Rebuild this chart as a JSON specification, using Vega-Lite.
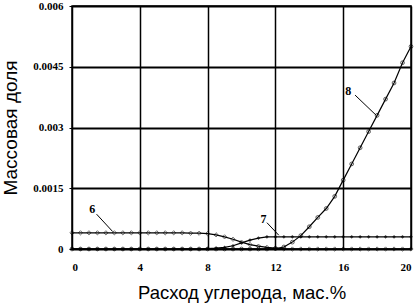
{
  "$schema": "https://vega.github.io/schema/vega-lite/v6.json",
  "autosize": "none",
  "width": 339,
  "height": 243,
  "padding": {"left": 72, "top": 6, "right": 7, "bottom": 59},
  "background": "white",
  "config": {
    "view": {"stroke": "black", "strokeWidth": 1.5},
    "font": "Liberation Sans"
  },
  "datasets": {
    "curves": [
      {"s": "6", "x": 0, "y": 0.0004}, {"s": "6", "x": 0.5, "y": 0.0004}, {"s": "6", "x": 1, "y": 0.0004}, {"s": "6", "x": 1.5, "y": 0.0004}, {"s": "6", "x": 2, "y": 0.0004}, {"s": "6", "x": 2.5, "y": 0.0004}, {"s": "6", "x": 3, "y": 0.0004}, {"s": "6", "x": 3.5, "y": 0.0004}, {"s": "6", "x": 4, "y": 0.0004}, {"s": "6", "x": 4.5, "y": 0.0004}, {"s": "6", "x": 5, "y": 0.0004}, {"s": "6", "x": 5.5, "y": 0.0004}, {"s": "6", "x": 6, "y": 0.0004}, {"s": "6", "x": 6.5, "y": 0.0004}, {"s": "6", "x": 7, "y": 0.00039}, {"s": "6", "x": 7.5, "y": 0.00039}, {"s": "6", "x": 8, "y": 0.00038},
      {"s": "6", "x": 8.5, "y": 0.00035}, {"s": "6", "x": 9, "y": 0.0003}, {"s": "6", "x": 9.5, "y": 0.00024}, {"s": "6", "x": 10, "y": 0.00017}, {"s": "6", "x": 10.5, "y": 0.00011}, {"s": "6", "x": 11, "y": 0.00007}, {"s": "6", "x": 11.5, "y": 0.00004}, {"s": "6", "x": 12, "y": 0.00002}, {"s": "6", "x": 12.5, "y": 0}, {"s": "6", "x": 13, "y": 0}, {"s": "6", "x": 13.5, "y": 0}, {"s": "6", "x": 14, "y": 0}, {"s": "6", "x": 14.5, "y": 0}, {"s": "6", "x": 15, "y": 0}, {"s": "6", "x": 15.5, "y": 0}, {"s": "6", "x": 16, "y": 0}, {"s": "6", "x": 16.5, "y": 0}, {"s": "6", "x": 17, "y": 0}, {"s": "6", "x": 17.5, "y": 0}, {"s": "6", "x": 18, "y": 0}, {"s": "6", "x": 18.5, "y": 0}, {"s": "6", "x": 19, "y": 0}, {"s": "6", "x": 19.5, "y": 0}, {"s": "6", "x": 20, "y": 0},
      {"s": "7", "x": 0, "y": 0}, {"s": "7", "x": 0.5, "y": 0}, {"s": "7", "x": 1, "y": 0}, {"s": "7", "x": 1.5, "y": 0}, {"s": "7", "x": 2, "y": 0}, {"s": "7", "x": 2.5, "y": 0}, {"s": "7", "x": 3, "y": 0}, {"s": "7", "x": 3.5, "y": 0}, {"s": "7", "x": 4, "y": 0}, {"s": "7", "x": 4.5, "y": 0}, {"s": "7", "x": 5, "y": 0}, {"s": "7", "x": 5.5, "y": 0}, {"s": "7", "x": 6, "y": 0}, {"s": "7", "x": 6.5, "y": 0}, {"s": "7", "x": 7, "y": 0}, {"s": "7", "x": 7.5, "y": 0}, {"s": "7", "x": 8, "y": 0.00001}, {"s": "7", "x": 8.5, "y": 0.00002},
      {"s": "7", "x": 9, "y": 0.00004}, {"s": "7", "x": 9.5, "y": 0.00008}, {"s": "7", "x": 10, "y": 0.00015}, {"s": "7", "x": 10.5, "y": 0.00022}, {"s": "7", "x": 11, "y": 0.00027}, {"s": "7", "x": 11.5, "y": 0.0003}, {"s": "7", "x": 12, "y": 0.0003}, {"s": "7", "x": 12.5, "y": 0.0003}, {"s": "7", "x": 13, "y": 0.0003}, {"s": "7", "x": 13.5, "y": 0.0003}, {"s": "7", "x": 14, "y": 0.0003}, {"s": "7", "x": 14.5, "y": 0.0003}, {"s": "7", "x": 15, "y": 0.0003}, {"s": "7", "x": 15.5, "y": 0.0003}, {"s": "7", "x": 16, "y": 0.0003}, {"s": "7", "x": 16.5, "y": 0.0003}, {"s": "7", "x": 17, "y": 0.0003}, {"s": "7", "x": 17.5, "y": 0.0003}, {"s": "7", "x": 18, "y": 0.0003}, {"s": "7", "x": 18.5, "y": 0.0003}, {"s": "7", "x": 19, "y": 0.0003}, {"s": "7", "x": 19.5, "y": 0.0003}, {"s": "7", "x": 20, "y": 0.0003},
      {"s": "8", "x": 0, "y": 0}, {"s": "8", "x": 0.5, "y": 0}, {"s": "8", "x": 1, "y": 0}, {"s": "8", "x": 1.5, "y": 0}, {"s": "8", "x": 2, "y": 0}, {"s": "8", "x": 2.5, "y": 0}, {"s": "8", "x": 3, "y": 0}, {"s": "8", "x": 3.5, "y": 0}, {"s": "8", "x": 4, "y": 0}, {"s": "8", "x": 4.5, "y": 0}, {"s": "8", "x": 5, "y": 0}, {"s": "8", "x": 5.5, "y": 0}, {"s": "8", "x": 6, "y": 0}, {"s": "8", "x": 6.5, "y": 0}, {"s": "8", "x": 7, "y": 0}, {"s": "8", "x": 7.5, "y": 0}, {"s": "8", "x": 8, "y": 0}, {"s": "8", "x": 8.5, "y": 0}, {"s": "8", "x": 9, "y": 0}, {"s": "8", "x": 9.5, "y": 0}, {"s": "8", "x": 10, "y": 0}, {"s": "8", "x": 10.5, "y": 0}, {"s": "8", "x": 11, "y": 0}, {"s": "8", "x": 11.5, "y": 0}, {"s": "8", "x": 12, "y": 0.00001},
      {"s": "8", "x": 12.5, "y": 0.00005}, {"s": "8", "x": 13, "y": 0.00017}, {"s": "8", "x": 13.5, "y": 0.00033}, {"s": "8", "x": 14, "y": 0.00055}, {"s": "8", "x": 14.5, "y": 0.00078}, {"s": "8", "x": 15, "y": 0.001}, {"s": "8", "x": 15.5, "y": 0.0013}, {"s": "8", "x": 16, "y": 0.0017}, {"s": "8", "x": 16.5, "y": 0.0021}, {"s": "8", "x": 17, "y": 0.0025}, {"s": "8", "x": 17.5, "y": 0.0029}, {"s": "8", "x": 18, "y": 0.0033}, {"s": "8", "x": 18.5, "y": 0.0037}, {"s": "8", "x": 19, "y": 0.0041}, {"s": "8", "x": 19.5, "y": 0.0046}, {"s": "8", "x": 20, "y": 0.005}
    ],
    "labels": [
      {"t": "6", "x": 1.2, "y": 0.00098, "x0": 1.45, "y0": 0.00086, "x1": 2.4, "y1": 0.00043},
      {"t": "7", "x": 11.3, "y": 0.00075, "x0": 11.5, "y0": 0.00065, "x1": 12.2, "y1": 0.00034},
      {"t": "8", "x": 16.3, "y": 0.0039, "x0": 16.7, "y0": 0.0038, "x1": 17.95, "y1": 0.0033}
    ]
  },
  "layer": [
    {
      "data": {"name": "curves"},
      "mark": {"type": "line", "color": "black", "strokeWidth": 1.2},
      "encoding": {
        "x": {"field": "x", "type": "quantitative", "scale": {"domain": [0, 20], "nice": false},
          "axis": {"values": [0, 4, 8, 12, 16, 20], "labelExpr": "'' + datum.value", "title": "Расход углерода, мас.%", "titleFontSize": 18.5, "titleFontWeight": "normal", "titlePadding": 11, "titleColor": "black",
            "labelFont": "Liberation Sans Narrow", "labelFontSize": 11, "labelFontWeight": "bold", "labelColor": "black", "labelPadding": 12, "ticks": false, "domain": false,
            "grid": true, "gridColor": "black", "gridWidth": 1.5, "gridOpacity": 1}},
        "y": {"field": "y", "type": "quantitative", "scale": {"domain": [0, 0.006], "nice": false},
          "axis": {"values": [0, 0.0015, 0.003, 0.0045, 0.006], "labelExpr": "'' + datum.value", "title": "Массовая доля", "titleFontSize": 19, "titleFontWeight": "normal", "titlePadding": 12, "titleColor": "black",
            "labelFont": "Liberation Sans Narrow", "labelFontSize": 11, "labelFontWeight": "bold", "labelColor": "black", "labelPadding": 6, "ticks": true, "tickSize": 3, "tickColor": "black", "domain": false,
            "grid": true, "gridColor": "black", "gridWidth": 2, "gridOpacity": 1}},
        "detail": {"field": "s", "type": "nominal"}
      }
    },
    {
      "data": {"name": "curves"},
      "transform": [{"filter": "datum.s == '6'"}],
      "mark": {"type": "point", "shape": "diamond", "filled": false, "color": "black", "size": 18, "strokeWidth": 0.8},
      "encoding": {"x": {"field": "x", "type": "quantitative"}, "y": {"field": "y", "type": "quantitative"}}
    },
    {
      "data": {"name": "curves"},
      "transform": [{"filter": "datum.s == '7'"}],
      "mark": {"type": "point", "shape": "diamond", "filled": true, "color": "black", "size": 14},
      "encoding": {"x": {"field": "x", "type": "quantitative"}, "y": {"field": "y", "type": "quantitative"}}
    },
    {
      "data": {"name": "curves"},
      "transform": [{"filter": "datum.s == '8'"}],
      "mark": {"type": "point", "shape": "circle", "filled": false, "color": "black", "size": 14, "strokeWidth": 0.9},
      "encoding": {"x": {"field": "x", "type": "quantitative"}, "y": {"field": "y", "type": "quantitative"}}
    },
    {
      "data": {"name": "labels"},
      "mark": {"type": "rule", "color": "black", "strokeWidth": 1},
      "encoding": {"x": {"field": "x0", "type": "quantitative"}, "y": {"field": "y0", "type": "quantitative"}, "x2": {"field": "x1"}, "y2": {"field": "y1"}}
    },
    {
      "data": {"name": "labels"},
      "mark": {"type": "text", "color": "black", "fontSize": 12, "font": "Liberation Sans Narrow", "fontWeight": "bold", "align": "center", "baseline": "middle"},
      "encoding": {"x": {"field": "x", "type": "quantitative"}, "y": {"field": "y", "type": "quantitative"}, "text": {"field": "t"}}
    }
  ]
}
